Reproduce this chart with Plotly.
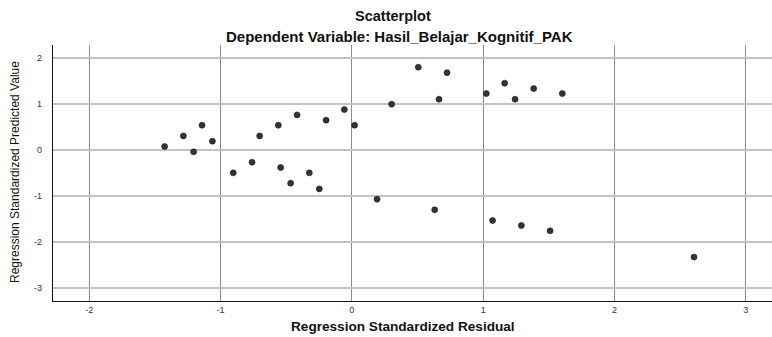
import plotly.graph_objects as go

# Regression Standardized Residual (x) vs Regression Standardized Predicted Value (y)
residual = [-1.426, -1.283, -1.141, -1.205, -1.062, -0.702, -0.560, -0.417, -0.196, -0.057,
            0.021, -0.903, -0.760, -0.542, -0.324, -0.466, -0.248, 0.192, 0.303, 0.506,
            0.725, 0.664, 1.024, 1.164, 1.243, 1.385, 1.603, 0.631, 1.072, 1.291,
            1.510, 2.606]
predicted = [0.074, 0.306, 0.538, -0.041, 0.191, 0.306, 0.538, 0.762, 0.647, 0.877,
             0.538, -0.497, -0.265, -0.382, -0.497, -0.721, -0.845, -1.068, 0.994, 1.798,
             1.680, 1.103, 1.224, 1.450, 1.103, 1.333, 1.224, -1.300, -1.533, -1.641,
             -1.756, -2.327]

x_ticks = [-2, -1, 0, 1, 2, 3]
y_ticks = [-3, -2, -1, 0, 1, 2]

font_family = "Liberation Sans, Arial, sans-serif"

fig = go.Figure()
fig.add_trace(go.Scatter(
    x=residual, y=predicted, mode="markers",
    marker=dict(size=6, color="#333333", line=dict(color="#1a1a1a", width=0.6)),
    showlegend=False, hoverinfo="x+y",
))

fig.update_layout(
    width=772, height=337,
    margin=dict(l=53, r=0, t=45, b=36),
    paper_bgcolor="white", plot_bgcolor="white",
    font=dict(family=font_family, color="#222222"),
    xaxis=dict(
        range=[-2.276, 3.2], tickmode="array", tickvals=x_ticks,
        ticktext=[str(v) for v in x_ticks],
        showgrid=True, gridcolor="#8c8c8c", gridwidth=1,
        zeroline=False, showline=True, linecolor="#111111", linewidth=1.2,
        ticks="", tickfont=dict(size=9, color="#333333"), ticklabelstandoff=0,
    ),
    yaxis=dict(
        range=[-3.28, 2.28], tickmode="array", tickvals=y_ticks,
        ticktext=[str(v) for v in y_ticks],
        showgrid=True, gridcolor="#c4c4c4", gridwidth=1.5,
        zeroline=False, showline=True, linecolor="#111111", linewidth=1.2,
        ticks="", tickfont=dict(size=9, color="#333333"), ticklabelstandoff=8,
    ),
    annotations=[
        dict(text="<b>Scatterplot</b>", x=393, y=337 - 16,
             showarrow=False, font=dict(size=14.5, color="#111111")),
        dict(text="<b>Dependent Variable: Hasil_Belajar_Kognitif_PAK</b>", x=399, y=337 - 36,
             showarrow=False, font=dict(size=15, color="#111111")),
        dict(text="<b>Regression Standardized Residual</b>", x=403, y=337 - 326,
             showarrow=False, font=dict(size=13.6, color="#111111")),
        dict(text="Regression Standardized Predicted Value", x=15, y=337 - 172,
             textangle=-90, showarrow=False, font=dict(size=12, color="#111111")),
    ],
)

# convert annotation pixel positions to paper coordinates
plot_w = 772 - 53 - 0
plot_h = 337 - 45 - 36
for a in fig.layout.annotations:
    px, py = a.x, a.y
    a.x = (px - 53) / plot_w
    a.y = (py - 36) / plot_h
    a.xref = "paper"
    a.yref = "paper"
    a.xanchor = "center"
    a.yanchor = "middle"

fig.write_html("out.html", config={"displayModeBar": False})

# remove default browser body margin so the figure sits at the window's corner
with open("out.html", "r", encoding="utf-8") as f:
    html = f.read()
html = html.replace("<body>", '<body style="margin:0;padding:0;overflow:hidden">', 1)
with open("out.html", "w", encoding="utf-8") as f:
    f.write(html)
